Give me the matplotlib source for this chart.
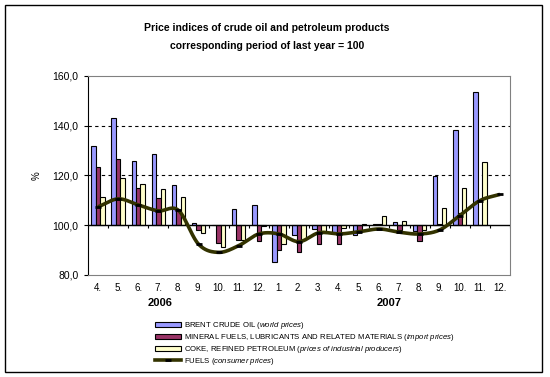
import matplotlib
matplotlib.use('Agg')
import matplotlib.pyplot as plt
import numpy as np
from matplotlib.patches import Patch, Rectangle
from matplotlib.lines import Line2D

plt.rcParams['font.family'] = ['Liberation Sans', 'DejaVu Sans']
plt.rcParams['mathtext.fontset'] = 'custom'
plt.rcParams['mathtext.rm'] = 'Liberation Sans'
plt.rcParams['mathtext.it'] = 'Liberation Sans:italic'

months = ['4.', '5.', '6.', '7.', '8.', '9.', '10.', '11.', '12.',
          '1.', '2.', '3.', '4.', '5.', '6.', '7.', '8.', '9.', '10.', '11.', '12.']
years = ['2006', '2007']
year_pos = [3.1, 14.5]

brent = [131.9, 143.2, 125.9, 128.7, 116.2, 100.8, 100.3, 106.5, 108.1,
         85.3, 96.0, 98.4, 96.8, 96.1, 100.4, 101.2, 97.8, 119.8, 138.4, 153.7, np.nan]
mineral = [123.4, 126.7, 114.9, 110.9, 106.2, 98.2, 92.7, 93.9, 93.5,
           89.9, 89.1, 92.3, 92.3, 97.8, 100.5, 98.0, 93.8, 100.6, 105.1, 100.0, np.nan]
coke = [111.3, 119.0, 116.6, 114.5, 111.3, 96.8, 91.1, 93.9, 99.8,
        92.3, 93.9, 96.8, 98.8, 100.5, 103.8, 101.7, 97.9, 106.9, 114.9, 125.5, np.nan]
fuels = [107.4, 110.6, 108.2, 105.8, 106.0, 92.4, 89.1, 91.8, 96.5,
         96.5, 93.4, 97.0, 96.5, 97.4, 98.5, 97.2, 96.5, 98.1, 103.9, 109.9, 112.4]

labels = [r'BRENT CRUDE OIL $\it{(world\ prices)}$',
          r'MINERAL FUELS, LUBRICANTS AND RELATED MATERIALS $\it{(import\ prices)}$',
          r'COKE, REFINED PETROLEUM $\it{(prices\ of\ industrial\ producers)}$',
          r'FUELS $\it{(consumer\ prices)}$']
colors = ['#9999FF', '#993366', '#FFFFCC']
line_color = '#333300'


def smooth(x, y, n=20):
    # catmull-rom curve through the points, like excel's smoothed line
    x = np.asarray(x, float)
    y = np.asarray(y, float)
    px = np.concatenate([[2 * x[0] - x[1]], x, [2 * x[-1] - x[-2]]])
    py = np.concatenate([[2 * y[0] - y[1]], y, [2 * y[-1] - y[-2]]])
    xs, ys = [], []
    t = np.linspace(0, 1, n, endpoint=False)
    for i in range(1, len(px) - 2):
        for p, out in ((px, xs), (py, ys)):
            p0, p1, p2, p3 = p[i - 1], p[i], p[i + 1], p[i + 2]
            out.extend(0.5 * (2 * p1 + (-p0 + p2) * t + (2 * p0 - 5 * p1 + 4 * p2 - p3) * t ** 2
                              + (-p0 + 3 * p1 - 3 * p2 + p3) * t ** 3))
    xs.append(x[-1])
    ys.append(y[-1])
    return np.array(xs), np.array(ys)


fig = plt.figure(figsize=(5.5, 3.77), dpi=100)
fig.patches.append(Rectangle((5 / 550, 1 - 372 / 377), 537 / 550, 367 / 377,
                             transform=fig.transFigure, fill=False, edgecolor='black', lw=1))

ax = fig.add_axes([88 / 550, 1 - 275 / 377, 422 / 550, 199 / 377])
x = np.arange(len(months))
w = 0.222
for k, (vals, c) in enumerate(zip([brent, mineral, coke], colors)):
    v = np.array(vals)
    ax.bar(x + (k - 1) * w, v - 100, bottom=100, width=w, color=c,
           edgecolor='black', linewidth=0.8, zorder=3)

ax.axhline(100, color='black', lw=1, zorder=4)
bounds = np.arange(-0.5, len(months) + 0.5)
ax.vlines(bounds, 98.8, 100, color='black', lw=0.8, zorder=4)

sx, sy = smooth(x, fuels)
ax.plot(sx, sy, color=line_color, lw=2.6, zorder=5, solid_capstyle='butt')
ax.plot(x, fuels, ls='none', marker='_', ms=5, mew=2, color='black', zorder=6)

ax.set_xlim(-0.5, len(months) - 0.5)
ax.set_ylim(80, 160)
ax.set_yticks([80, 100, 120, 140, 160])
ax.set_yticklabels(['80,0', '100,0', '120,0', '140,0', '160,0'], fontsize=7.5)
for yv in (120, 140):
    ax.axhline(yv, color='black', lw=0.8, ls=(0, (3, 3)), zorder=1)
ax.set_xticks(x)
ax.set_xticklabels(months, fontsize=7)
ax.tick_params(axis='x', length=0, pad=6)
ax.tick_params(axis='y', length=3, width=0.8, pad=4)
for s in ('top', 'right', 'bottom'):
    ax.spines[s].set_color('#808080')
ax.spines['left'].set_color('black')

for yr, p in zip(years, year_pos):
    ax.text(p, 80 - 23 / 2.475, yr, ha='center', va='top', fontsize=8, fontweight='bold')

fig.text(37 / 550, 1 - 176 / 377, '%', rotation=90, ha='center', va='center', fontsize=7)

fig.text(267 / 550, 1 - 28 / 377, 'Price indices of crude oil and petroleum products',
         ha='center', va='center', fontsize=7.5, fontweight='bold')
fig.text(267 / 550, 1 - 46 / 377, 'corresponding period of last year = 100',
         ha='center', va='center', fontsize=7.5, fontweight='bold')

handles = [Patch(facecolor=c, edgecolor='black', linewidth=0.8) for c in colors]
handles.append(Line2D([], [], color=line_color, lw=2.6, marker='_', ms=5, mew=2, mec='black'))
fig.legend(handles, labels, loc='upper left', bbox_to_anchor=(155 / 550, 1 - 320 / 377),
           frameon=False, fontsize=5.6, handlelength=3.4, handleheight=0.6,
           labelspacing=0.12, handletextpad=0.3, borderaxespad=0, borderpad=0)

fig.savefig('out.png', dpi=100)
